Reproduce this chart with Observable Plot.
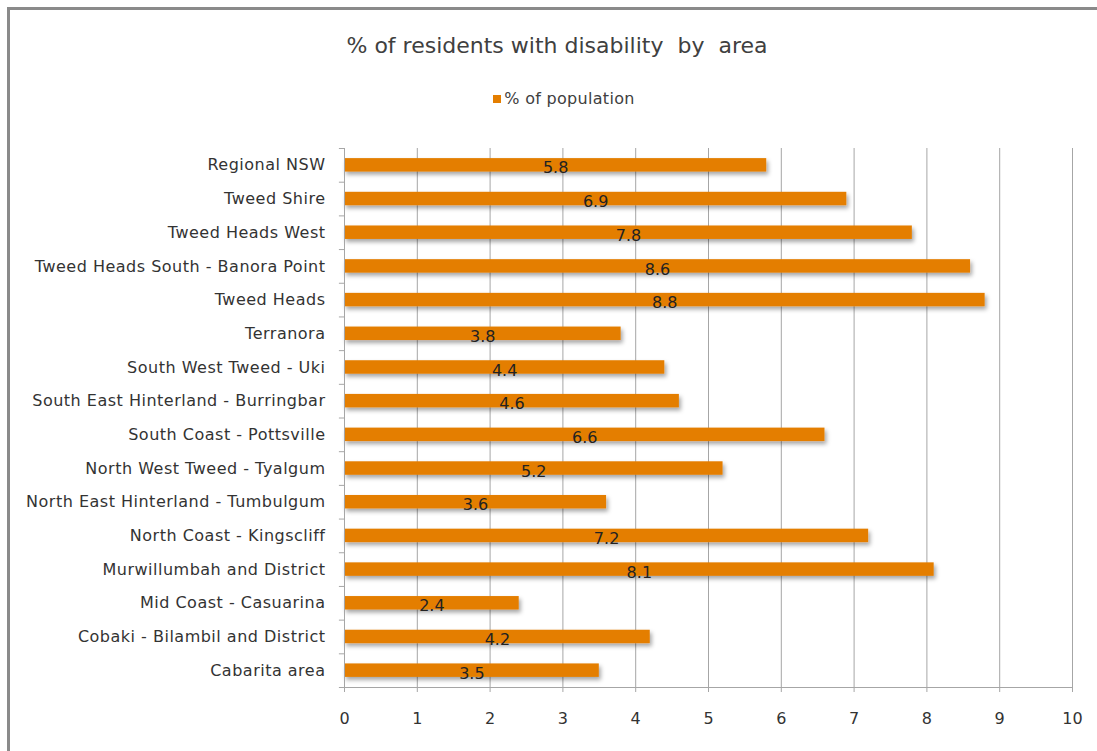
<!DOCTYPE html>
<html>
<head>
<meta charset="utf-8">
<script src="https://cdn.jsdelivr.net/npm/d3@7"></script>
<script src="https://cdn.jsdelivr.net/npm/@observablehq/plot@0.6"></script>
<style>
  html, body { margin: 0; padding: 0; background: #fff; }
  #wrap { position: relative; width: 1097px; height: 751px; overflow: hidden; font-family: "DejaVu Sans", sans-serif; }
  #border { position: absolute; left: 7px; top: 7px; width: 1200px; height: 900px; border: 3px solid #8a8a8a; box-sizing: border-box; }
  #title { position: absolute; left: 0; width: 1114px; top: 33px; text-align: center; font-size: 22px; color: #404040; letter-spacing: 0px; }
  #legend { position: absolute; left: 0; width: 1128px; top: 89px; text-align: center; font-size: 16px; color: #404040; letter-spacing: 0.3px; }
  #legend span.sw { display: inline-block; width: 8px; height: 8px; background: #E47E00; margin-right: 3px; vertical-align: 1px; }
  #chart { position: absolute; left: 0; top: 130px; }
  #chart svg g[aria-label="y-axis tick label"] text { letter-spacing: 0.5px; }
</style>
</head>
<body>
<div id="wrap">
  <div id="border"></div>
  <div id="title">% of residents with disability&nbsp; by&nbsp; area</div>
  <div id="legend"><span class="sw"></span>% of population</div>
  <div id="chart"></div>
</div>
<script>
const areas = [
  "Regional NSW",
  "Tweed Shire",
  "Tweed Heads West",
  "Tweed Heads South - Banora Point",
  "Tweed Heads",
  "Terranora",
  "South West Tweed - Uki",
  "South East Hinterland - Burringbar",
  "South Coast - Pottsville",
  "North West Tweed - Tyalgum",
  "North East Hinterland - Tumbulgum",
  "North Coast - Kingscliff",
  "Murwillumbah and District",
  "Mid Coast - Casuarina",
  "Cobaki - Bilambil and District",
  "Cabarita area"
];
const percentOfPopulation = [5.8, 6.9, 7.8, 8.6, 8.8, 3.8, 4.4, 4.6, 6.6, 5.2, 3.6, 7.2, 8.1, 2.4, 4.2, 3.5];
const xTicks = [0, 1, 2, 3, 4, 5, 6, 7, 8, 9, 10];

const data = areas.map((a, i) => ({area: a, value: percentOfPopulation[i]}));

const W = 1097, H = 621;
const mTop = 18, mBottom = 64, mLeft = 344, mRight = 25;
const step = (H - mTop - mBottom) / areas.length;
const orange = "#E47E00";
const grid = "#a6a6a6";
const font = "DejaVu Sans, sans-serif";

const plot = Plot.plot({
  width: W,
  height: H,
  marginTop: mTop,
  marginBottom: mBottom,
  marginLeft: mLeft,
  marginRight: mRight,
  style: {fontFamily: font, fontSize: "16px", color: "#333", background: "transparent"},
  x: {domain: [0, 10], ticks: xTicks, label: null, tickSize: 5, tickPadding: 20, tickFormat: d => String(d)},
  y: {domain: areas, paddingInner: 0.6, paddingOuter: 0.3, round: false, label: null, tickSize: 0, tickPadding: 19},
  marks: [
    Plot.ruleX(xTicks.slice(1), {stroke: grid, strokeWidth: 1}),
    Plot.barX(data, {x: "value", y: "area", fill: orange, className: "bars"}),
    Plot.text(data, {x: d => d.value / 2, y: "area", text: d => d.value.toFixed(1), fill: "#222", fontSize: 16, dy: 3}),
    Plot.ruleX([0], {stroke: grid, strokeWidth: 1}),
    Plot.ruleY(areas, {y: d => d, x1: -0.07, x2: 0, dy: -step / 2, stroke: grid}),
    Plot.ruleY([areas[areas.length - 1]], {y: d => d, x1: -0.07, x2: 10, dy: step / 2, stroke: grid})
  ]
});

// drop shadow for bars
const svg = d3.select(plot);
const defs = svg.insert("defs", ":first-child");
const f = defs.append("filter").attr("id", "barShadow").attr("x", "-5%").attr("y", "-50%").attr("width", "115%").attr("height", "250%");
f.append("feDropShadow").attr("dx", 2).attr("dy", 3).attr("stdDeviation", 2).attr("flood-color", "#000").attr("flood-opacity", 0.35);
svg.selectAll("g.bars").attr("filter", "url(#barShadow)");
svg.selectAll("[aria-label='x-axis tick']").attr("stroke", grid);

document.getElementById("chart").appendChild(plot);
</script>
</body>
</html>
